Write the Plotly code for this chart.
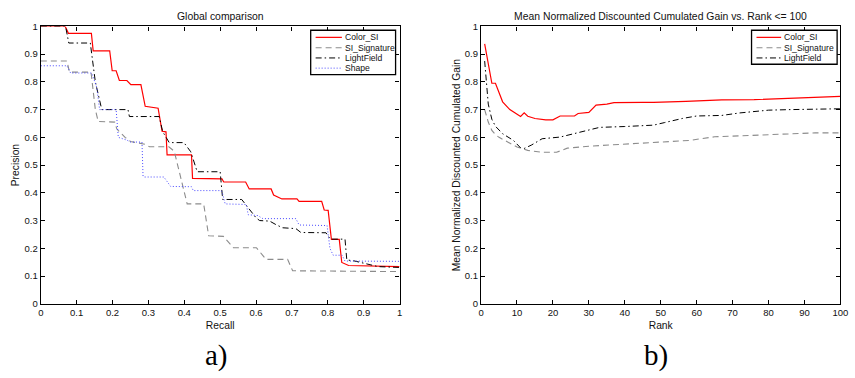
import plotly.graph_objects as go

# ---------------- Data: a) Global comparison (Precision vs Recall) ----------------
names_left = ["Color_SI", "SI_Signature", "LightField", "Shape"]

color_si_recall = [0, 0.068, 0.077, 0.141, 0.146, 0.192, 0.199, 0.21, 0.219, 0.24, 0.251, 0.279, 0.291, 0.327,
                   0.338, 0.349, 0.352, 0.42, 0.423, 0.505, 0.51, 0.571, 0.581, 0.642, 0.649, 0.672, 0.714, 0.72,
                   0.783, 0.79, 0.801, 0.81, 0.832, 0.839, 0.858, 0.921, 1.0]
color_si_precision = [1, 1, 0.975, 0.975, 0.912, 0.912, 0.84, 0.84, 0.805, 0.805, 0.79, 0.79, 0.712, 0.705,
                      0.622, 0.62, 0.537, 0.537, 0.452, 0.45, 0.439, 0.439, 0.414, 0.414, 0.392, 0.378, 0.378,
                      0.369, 0.369, 0.338, 0.337, 0.232, 0.232, 0.149, 0.138, 0.137, 0.134]

si_sig_recall = [0, 0.073, 0.08, 0.14, 0.152, 0.16, 0.206, 0.212, 0.235, 0.25, 0.29, 0.303, 0.357, 0.372,
                 0.408, 0.454, 0.468, 0.509, 0.537, 0.601, 0.628, 0.688, 0.702, 1.0]
si_sig_precision = [0.875, 0.875, 0.835, 0.835, 0.70, 0.657, 0.655, 0.63, 0.60, 0.585, 0.575, 0.566, 0.566,
                    0.55, 0.36, 0.36, 0.245, 0.243, 0.202, 0.202, 0.16, 0.16, 0.119, 0.116]

lf_recall = [0, 0.069, 0.078, 0.138, 0.152, 0.17, 0.243, 0.247, 0.33, 0.34, 0.358, 0.399, 0.418, 0.436, 0.50,
             0.507, 0.56, 0.575, 0.60, 0.61, 0.638, 0.656, 0.674, 0.711, 0.725, 0.795, 0.807, 0.848, 0.853,
             0.872, 0.905, 0.94, 1.0]
lf_precision = [1, 1, 0.94, 0.94, 0.80, 0.70, 0.70, 0.675, 0.675, 0.62, 0.581, 0.581, 0.548, 0.476, 0.476,
                0.376, 0.376, 0.35, 0.31, 0.30, 0.298, 0.285, 0.274, 0.271, 0.257, 0.256, 0.233, 0.233, 0.158,
                0.155, 0.145, 0.134, 0.131]

shape_recall = [0, 0.073, 0.083, 0.142, 0.156, 0.164, 0.21, 0.216, 0.24, 0.25, 0.282, 0.285, 0.288, 0.343,
                0.362, 0.42, 0.425, 0.5, 0.505, 0.514, 0.573, 0.578, 0.605, 0.619, 0.711, 0.72, 0.798, 0.806,
                0.815, 0.84, 0.848, 1.0]
shape_precision = [0.858, 0.858, 0.832, 0.832, 0.78, 0.70, 0.70, 0.60, 0.59, 0.583, 0.583, 0.46, 0.457, 0.457,
                   0.423, 0.422, 0.408, 0.408, 0.405, 0.36, 0.358, 0.321, 0.318, 0.307, 0.307, 0.284, 0.282,
                   0.20, 0.175, 0.175, 0.154, 0.153]

# ---------------- Data: b) Mean NDCG vs Rank ----------------
names_right = ["Color_SI", "SI_Signature", "LightField"]

rank_color = [1, 2, 3, 4, 5, 6, 8, 10, 11, 12, 13, 15, 18, 20, 22, 26, 27, 30, 32, 35, 37, 45, 48, 57, 67, 76,
              85, 94, 100]
ndcg_color = [0.937, 0.863, 0.795, 0.795, 0.764, 0.728, 0.700, 0.683, 0.675, 0.688, 0.676, 0.668, 0.663, 0.663,
              0.677, 0.677, 0.686, 0.690, 0.716, 0.720, 0.725, 0.726, 0.726, 0.730, 0.735, 0.736, 0.741, 0.746,
              0.748]

rank_sig = [1, 2, 3, 4, 5, 7, 10, 13, 17, 21, 24, 30, 40, 49, 58, 65, 77, 86, 93, 100]
ndcg_sig = [0.70, 0.655, 0.625, 0.61, 0.60, 0.585, 0.565, 0.553, 0.546, 0.546, 0.561, 0.568, 0.576, 0.581,
            0.589, 0.602, 0.609, 0.613, 0.616, 0.616]

rank_lf = [1, 2, 3, 4, 6, 9, 11, 12, 14, 17, 22, 27, 33, 40, 48, 51, 56, 60, 67, 72, 77, 80, 86, 95, 100]
ndcg_lf = [0.875, 0.72, 0.665, 0.64, 0.613, 0.589, 0.562, 0.56, 0.572, 0.595, 0.601, 0.618, 0.636, 0.639,
           0.644, 0.653, 0.668, 0.677, 0.679, 0.688, 0.694, 0.698, 0.70, 0.702, 0.703]

# ---------------- Styles ----------------
W, H = 855, 378
FONT = "Liberation Sans, Arial, Helvetica, sans-serif"
styles = {
    "Color_SI": dict(color="#ff0000", width=1.2, dash="solid"),
    "SI_Signature": dict(color="#8c8c8c", width=1.1, dash="6px,4px"),
    "LightField": dict(color="#000000", width=1.0, dash="6px,3px,1.5px,3px"),
    "Shape": dict(color="#4848ff", width=1.0, dash="1px,2px"),
}

fig = go.Figure()

left_series = [(color_si_recall, color_si_precision), (si_sig_recall, si_sig_precision),
               (lf_recall, lf_precision), (shape_recall, shape_precision)]
for name, (xs, ys) in zip(names_left, left_series):
    fig.add_trace(go.Scatter(x=xs, y=ys, mode="lines", name=name, line=styles[name],
                             xaxis="x", yaxis="y", showlegend=False))

right_series = [(rank_color, ndcg_color), (rank_sig, ndcg_sig), (rank_lf, ndcg_lf)]
for name, (xs, ys) in zip(names_right, right_series):
    fig.add_trace(go.Scatter(x=xs, y=ys, mode="lines", name=name, line=styles[name],
                             xaxis="x2", yaxis="y2", showlegend=False))

ax_common = dict(showline=True, linecolor="black", linewidth=1.3, mirror="ticks", ticks="inside",
                 ticklen=4, tickwidth=1, tickcolor="black", showgrid=False, zeroline=False,
                 tickfont=dict(family=FONT, size=9.5, color="#111"), fixedrange=True)

xl = (38.3 / W, 401.7 / W)
xr = (484.3 / W, 848.3 / W)
yd = ((H - 306.7) / H, (H - 21) / H)


def px_x(p):
    return p / W


def px_y(p):
    return 1 - p / H


# ---- MATLAB-style compact legends (box, line samples, labels) ----
shapes = []
annotations = []


def add_legend(names, box, line_x0, line_x1, text_x, row_ys):
    x0, y0, x1, y1 = box
    shapes.append(dict(type="rect", xref="paper", yref="paper", x0=px_x(x0), x1=px_x(x1),
                       y0=px_y(y1), y1=px_y(y0), line=dict(color="black", width=1.3),
                       fillcolor="white", layer="above"))
    for name, ry in zip(names, row_ys):
        st = styles[name]
        shapes.append(dict(type="line", xref="paper", yref="paper", x0=px_x(line_x0), x1=px_x(line_x1),
                           y0=px_y(ry), y1=px_y(ry), layer="above",
                           line=dict(color=st["color"], width=st["width"], dash=st["dash"])))
        annotations.append(dict(text=name, x=px_x(text_x), y=px_y(ry), xref="paper", yref="paper",
                                showarrow=False, xanchor="left", yanchor="middle",
                                font=dict(family=FONT, size=8.6, color="#111")))


add_legend(names_left, (311.7, 25, 397.7, 70.7), 316.7, 343.3, 344.5, [32.3, 43.0, 53.5, 64.0])
add_legend(names_right, (758.3, 25, 845, 60), 763.3, 788.3, 789.5, [32.3, 43.0, 53.5])

annotations += [
    dict(text="Global comparison", x=(xl[0] + xl[1]) / 2, y=px_y(11), xref="paper", yref="paper",
         showarrow=False, font=dict(family=FONT, size=10.4, color="#111"), xanchor="center", yanchor="middle"),
    dict(text="Mean Normalized Discounted Cumulated Gain vs. Rank &lt;= 100", x=(xr[0] + xr[1]) / 2,
         y=px_y(11), xref="paper", yref="paper", showarrow=False,
         font=dict(family=FONT, size=10.4, color="#111"), xanchor="center", yanchor="middle"),
    dict(text="a)", x=px_x(216), y=px_y(360), xref="paper", yref="paper", showarrow=False,
         font=dict(family="Liberation Serif, DejaVu Serif, serif", size=29, color="#000"),
         xanchor="center", yanchor="middle"),
    dict(text="b)", x=px_x(662), y=px_y(360), xref="paper", yref="paper", showarrow=False,
         font=dict(family="Liberation Serif, DejaVu Serif, serif", size=29, color="#000"),
         xanchor="center", yanchor="middle"),
]

fig.update_layout(
    width=W, height=H, margin=dict(l=0, r=0, t=0, b=0),
    paper_bgcolor="white", plot_bgcolor="white",
    font=dict(family=FONT, size=10, color="#111"),
    xaxis=dict(domain=xl, range=[0, 1], dtick=0.1, tick0=0, anchor="y",
               title=dict(text="Recall", font=dict(size=10.3), standoff=4), **ax_common),
    yaxis=dict(domain=yd, range=[0, 1], dtick=0.1, tick0=0, anchor="x",
               title=dict(text="Precision", font=dict(size=10.3), standoff=2), **ax_common),
    xaxis2=dict(domain=xr, range=[0, 100], dtick=10, tick0=0, anchor="y2",
                title=dict(text="Rank", font=dict(size=10.3), standoff=4), **ax_common),
    yaxis2=dict(domain=yd, range=[0, 1], dtick=0.1, tick0=0, anchor="x2",
                title=dict(text="Mean Normalized Discounted Cumulated Gain", font=dict(size=10.3), standoff=2),
                **ax_common),
    showlegend=False,
    shapes=shapes,
    annotations=annotations,
)

fig.write_html("out.html")
